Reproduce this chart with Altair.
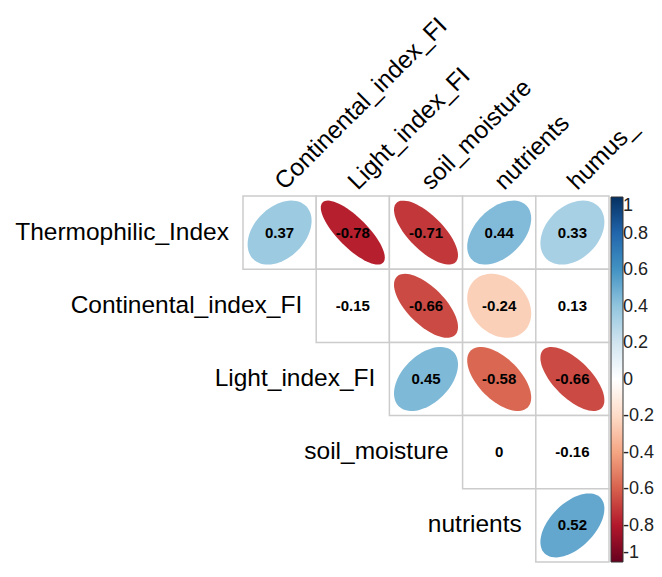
import math
import altair as alt
import pandas as pd

rows = ["Thermophilic_Index", "Continental_index_FI", "Light_index_FI", "soil_moisture", "nutrients"]
cols = ["Continental_index_FI", "Light_index_FI", "soil_moisture", "nutrients", "humus_"]

# upper triangle, row i starts at column i
corr_values = [
    [0.37, -0.78, -0.71, 0.44, 0.33],
    [-0.15, -0.66, -0.24, 0.13],
    [0.45, -0.58, -0.66],
    [0.0, -0.16],
    [0.52],
]
drawn = [
    [True, True, True, True, True],
    [False, True, True, False],
    [True, True, True],
    [False, False],
    [True],
]

legend_values = [-1, -0.8, -0.6, -0.4, -0.2, 0, 0.2, 0.4, 0.6, 0.8, 1]
palette = ["#67001F", "#B2182B", "#D6604D", "#F4A582", "#FDDBC7", "#FFFFFF",
           "#D1E5F0", "#92C5DE", "#4393C3", "#2166AC", "#053061"]


def ellipse_path(r, n=72):
    d = math.acos(max(-1.0, min(1.0, r)))
    pts = []
    for k in range(n):
        t = 2 * math.pi * k / n
        x = math.cos(t + d / 2)
        y = -math.cos(t - d / 2)
        pts.append(f"{x:.4f},{y:.4f}")
    return "M" + " L".join(pts) + " Z"


recs = []
for i, (vals, flags) in enumerate(zip(corr_values, drawn)):
    for k, (v, f) in enumerate(zip(vals, flags)):
        c = i + k
        recs.append({"row": rows[i], "col": cols[c], "ri": i, "ci": c, "r": v,
                     "sig": f, "path": ellipse_path(v)})
df = pd.DataFrame(recs)
rows_df = pd.DataFrame({"label": rows, "ri": list(range(len(rows)))})
cols_df = pd.DataFrame({"label": cols, "ci": list(range(len(cols)))})

xs = alt.Scale(domain=[-0.5, 4.5], nice=False, zero=False)
ys = alt.Scale(domain=[-0.5, 4.5], nice=False, zero=False, reverse=True)
FONT = "Liberation Sans"

base = alt.Chart(df)

cells = base.mark_rect(fill="white", stroke="#CCCCCC", strokeWidth=1.5).transform_calculate(
    x1="datum.ci - 0.5", x2="datum.ci + 0.5", y1="datum.ri - 0.5", y2="datum.ri + 0.5"
).encode(
    x=alt.X("x1:Q", scale=xs, axis=None), x2="x2:Q",
    y=alt.Y("y1:Q", scale=ys, axis=None), y2="y2:Q",
)

ellipses = base.transform_filter("datum.sig").mark_point(filled=True, opacity=1, strokeWidth=0).encode(
    x=alt.X("ci:Q", scale=xs, axis=None),
    y=alt.Y("ri:Q", scale=ys, axis=None),
    shape=alt.Shape("path:N", scale=None),
    size=alt.value(4096),
    color=alt.Color("r:Q",
                    scale=alt.Scale(domain=legend_values, range=palette, interpolate="rgb"),
                    legend=alt.Legend(orient="none", legendX=368, legendY=1, direction="vertical",
                                      gradientLength=365, gradientThickness=12, values=legend_values,
                                      labelExpr="(datum.value < 0 ? '-' : '') + format(abs(datum.value), '~g')",
                                      labelFontSize=18, labelFont=FONT,
                                      labelColor="#222222", labelOffset=0, labelOverlap=False,
                                      gradientStrokeColor="#333333", gradientStrokeWidth=1,
                                      title=None)),
)

coefs = base.transform_calculate(
    lab="(datum.r < 0 ? '-' : '') + format(abs(datum.r), '~g')"
).mark_text(font=FONT, fontSize=15, fontWeight="bold", color="black").encode(
    x=alt.X("ci:Q", scale=xs, axis=None),
    y=alt.Y("ri:Q", scale=ys, axis=None),
    text="lab:N",
)

row_labels = alt.Chart(rows_df).transform_calculate(lx="datum.ri - 0.5").mark_text(
    font=FONT, fontSize=24.5, color="black", align="right", baseline="middle", dx=-14
).encode(
    x=alt.X("lx:Q", scale=xs, axis=None),
    y=alt.Y("ri:Q", scale=ys, axis=None),
    text="label:N",
)

col_labels = alt.Chart(cols_df).transform_calculate(ly="-0.5").mark_text(
    font=FONT, fontSize=24.5, color="black", align="left", baseline="alphabetic", angle=315, dx=7
).encode(
    x=alt.X("ci:Q", scale=xs, axis=None),
    y=alt.Y("ly:Q", scale=ys, axis=None),
    text="label:N",
)

chart = alt.layer(cells, ellipses, coefs, row_labels, col_labels).properties(
    width=366, height=366,
    autosize=alt.AutoSizeParams(type="none"),
    padding={"left": 235, "top": 188, "right": 45, "bottom": 5},
).configure_view(stroke=None)

chart.save("out.html", embed_options={"renderer": "svg", "actions": False})
